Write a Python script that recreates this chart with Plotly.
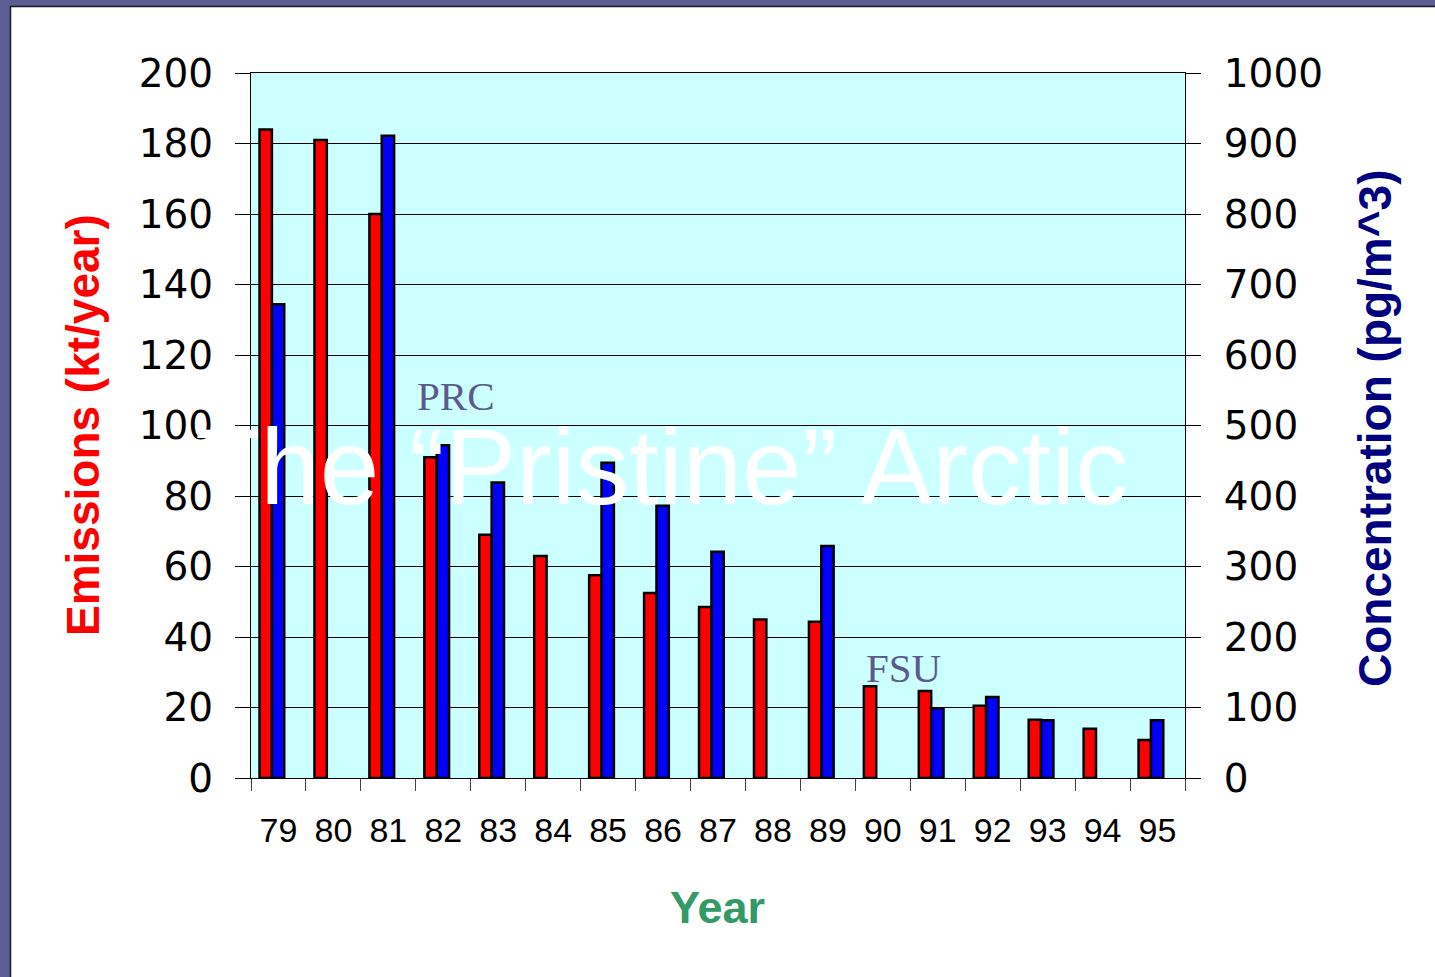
import plotly.graph_objects as go

# Annual emissions (left axis) and measured air concentration (right axis)
years = ["79", "80", "81", "82", "83", "84", "85", "86", "87",
         "88", "89", "90", "91", "92", "93", "94", "95"]
emissions_kt = [184, 181, 160, 91, 69, 63, 57.5, 52.5, 48.5,
                45, 44.3, 26, 24.7, 20.5, 16.5, 14, 10.8]
concentration_pg = [672, None, 911, 472, 419, None, 447, 386, 321,
                    None, 329, None, 99, 115, 82, None, 82]

left_ticks = list(range(0, 201, 20))
right_ticks = list(range(0, 1001, 100))

W, H = 1435, 977
ML, MR, MT, MB = 251, 250, 73, 199
PW, PH = W - ML - MR, H - MT - MB


def fx(px):
    return (px - ML) / PW


def fy(py):
    return (H - MB - py) / PH


fig = go.Figure()

fig.add_trace(go.Bar(
    x=years, y=emissions_kt, name="Emissions",
    marker=dict(color="#FF0000", line=dict(color="black", width=2.5)),
    width=0.225, offset=-0.345, yaxis="y",
))
fig.add_trace(go.Bar(
    x=years, y=concentration_pg, name="Concentration",
    marker=dict(color="#0000FF", line=dict(color="black", width=2.5)),
    width=0.225, offset=-0.12, yaxis="y2",
))

tick_font_y = dict(family="DejaVu Sans, Verdana, sans-serif", size=39, color="black")
tick_font_x = dict(family="Liberation Sans, Arial, sans-serif", size=34, color="black")

fig.update_layout(
    width=W, height=H,
    margin=dict(l=ML, r=MR, t=MT, b=MB, pad=0),
    paper_bgcolor="white",
    plot_bgcolor="#CCFFFF",
    showlegend=False,
    barmode="overlay",
    xaxis=dict(
        type="category", categoryorder="array", categoryarray=years,
        tickson="boundaries", ticks="outside", ticklen=12, tickwidth=1,
        tickcolor="#444", showline=True, linecolor="black", linewidth=1,
        mirror=True, showgrid=False, tickfont=tick_font_x,
        ticklabelstandoff=22, range=[-0.5, len(years) - 0.5],
    ),
    yaxis=dict(
        range=[0, 200], tickvals=left_ticks, ticks="outside", ticklen=15,
        tickwidth=1, tickcolor="black", showline=True, linecolor="black",
        linewidth=1, showgrid=True, gridcolor="black", gridwidth=1,
        zeroline=False, tickfont=tick_font_y, ticklabelstandoff=14,
    ),
    yaxis2=dict(
        range=[0, 1000], tickvals=right_ticks, overlaying="y", side="right",
        ticks="outside", ticklen=15, tickwidth=1, tickcolor="black",
        showline=True, linecolor="black", linewidth=1, showgrid=False,
        zeroline=False, tickfont=tick_font_y, ticklabelstandoff=15,
    ),
)

# Slide frame: purple strips along the top and left edges
frame = "#5c5d93"
fig.add_shape(type="rect", xref="paper", yref="paper", layer="above",
              x0=fx(0), x1=fx(10), y0=fy(H), y1=fy(0),
              fillcolor=frame, line=dict(width=0))
fig.add_shape(type="rect", xref="paper", yref="paper", layer="above",
              x0=fx(0), x1=fx(W), y0=fy(6), y1=fy(0),
              fillcolor=frame, line=dict(width=0))
fig.add_shape(type="line", xref="paper", yref="paper", layer="above",
              x0=fx(10.5), x1=fx(10.5), y0=fy(H), y1=fy(6),
              line=dict(color="#1b1b30", width=1.5))
fig.add_shape(type="line", xref="paper", yref="paper", layer="above",
              x0=fx(10), x1=fx(W), y0=fy(6.5), y1=fy(6.5),
              line=dict(color="#1b1b30", width=1.5))

bold = "Liberation Sans, Arial, sans-serif"
annotations = [
    dict(text="<b>Emissions (kt/year)</b>", x=fx(83), y=fy(425), textangle=-90,
         font=dict(family=bold, size=46, color="#FF0000")),
    dict(text="<b>Concentration (pg/m^3)</b>", x=fx(1375), y=fy(428), textangle=-90,
         font=dict(family=bold, size=46, color="#000080")),
    dict(text="<b>Year</b>", x=fx(717), y=fy(907),
         font=dict(family=bold, size=45, color="#339966")),
    dict(text="PRC", x=fx(456), y=fy(396),
         font=dict(family="Liberation Serif, Times New Roman, serif", size=41, color="#5a5a8c")),
    dict(text="FSU", x=fx(903), y=fy(668),
         font=dict(family="Liberation Serif, Times New Roman, serif", size=41, color="#5a5a8c")),
    dict(text="The \u201cPristine\u201d Arctic", x=fx(193), y=fy(467), xanchor="left",
         font=dict(family="Liberation Sans, Arial, sans-serif", size=107, color="white")),
]
for a in annotations:
    a.setdefault("xanchor", "center")
    fig.add_annotation(xref="paper", yref="paper", yanchor="middle",
                       showarrow=False, **a)

fig.write_html("out.html")
